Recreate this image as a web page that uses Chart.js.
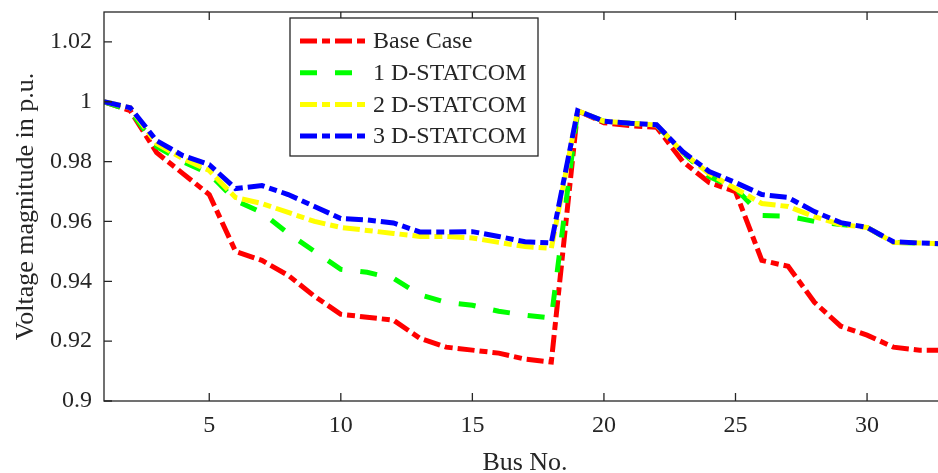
<!DOCTYPE html>
<html>
<head>
<meta charset="utf-8">
<script src="https://cdn.jsdelivr.net/npm/chart.js@4.4.1/dist/chart.umd.min.js"></script>
<style>
  html, body { margin:0; padding:0; background:#fff; overflow:hidden; }
  canvas { display:block; }
</style>
</head>
<body>
<canvas id="volt" width="960" height="476"></canvas>
<script>
// bus voltage profile, 33-bus feeder
const busNo = [1,2,3,4,5,6,7,8,9,10,11,12,13,14,15,16,17,18,19,20,21,22,23,24,25,26,27,28,29,30,31,32,33];

const baseCase = [1.000,0.997,0.983,0.976,0.969,0.950,0.947,0.942,0.935,0.929,0.928,0.927,0.921,0.918,0.917,0.916,0.914,0.913,
                  0.997,0.993,0.992,0.9915,0.980,0.973,0.970,0.947,0.945,0.933,0.925,0.922,0.918,0.917,0.917];
const oneStatcom = [1.000,0.997,0.985,0.980,0.976,0.967,0.963,0.956,0.950,0.944,0.943,0.941,0.9355,0.933,0.932,0.930,0.9287,0.9277,
                    0.997,0.9935,0.9928,0.9922,0.983,0.975,0.971,0.962,0.9618,0.960,0.959,0.958,0.953,0.9528,0.9525];
const twoStatcom = [1.000,0.998,0.986,0.981,0.977,0.968,0.966,0.963,0.960,0.958,0.957,0.956,0.955,0.955,0.9545,0.953,0.9516,0.951,
                    0.997,0.9935,0.9928,0.9922,0.983,0.976,0.971,0.966,0.965,0.9616,0.959,0.958,0.953,0.9528,0.9525];
const threeStatcom = [1.000,0.998,0.987,0.982,0.979,0.971,0.972,0.969,0.965,0.961,0.9605,0.9595,0.9565,0.9565,0.9566,0.955,0.9532,0.9528,
                      0.997,0.9935,0.9928,0.9923,0.9833,0.9767,0.973,0.969,0.968,0.9633,0.9596,0.958,0.9532,0.9528,0.9525];

const xTicks = [5,10,15,20,25,30];
const yTicks = [0.9,0.92,0.94,0.96,0.98,1,1.02];

const AXIS = "#262626";
const FONT = "'Liberation Serif', 'Times New Roman', serif";
const FS = 24;   // tick + legend text
const TS = 26;   // axis titles

const pts = arr => busNo.map((b,i)=>({x:b, y:arr[i]}));
const dashDot = [17,5,8,5];

const series = [
  {label:"Base Case",   data:pts(baseCase),     borderColor:"#ff0000", borderDash:dashDot, order:3},
  {label:"1 D-STATCOM", data:pts(oneStatcom),   borderColor:"#00ff00", borderDash:[17,18], order:2},
  {label:"2 D-STATCOM", data:pts(twoStatcom),   borderColor:"#ffff00", borderDash:dashDot, order:1},
  {label:"3 D-STATCOM", data:pts(threeStatcom), borderColor:"#0000ff", borderDash:dashDot, order:0}
].map(s => Object.assign(s, {borderWidth:5, pointRadius:0, tension:0, fill:false, borderCapStyle:"butt", borderJoinStyle:"miter"}));

// box, inward ticks and legend, matlab style
const frame = {
  id:"frame",
  afterDatasetsDraw(chart){
    const {ctx, chartArea:a, scales:{x, y}} = chart;
    ctx.save();
    ctx.strokeStyle = AXIS;
    ctx.lineWidth = 1.3;
    ctx.setLineDash([]);
    ctx.strokeRect(a.left, a.top, a.right-a.left, a.bottom-a.top);
    const tl = 8;
    ctx.beginPath();
    xTicks.forEach(v=>{
      const px = x.getPixelForValue(v);
      ctx.moveTo(px, a.bottom); ctx.lineTo(px, a.bottom-tl);
      ctx.moveTo(px, a.top);    ctx.lineTo(px, a.top+tl);
    });
    yTicks.forEach(v=>{
      const py = y.getPixelForValue(v);
      ctx.moveTo(a.left, py);  ctx.lineTo(a.left+tl, py);
      ctx.moveTo(a.right, py); ctx.lineTo(a.right-tl, py);
    });
    ctx.stroke();

    // legend
    const lx = 290, ly = 18, lw = 248, lh = 138;
    ctx.fillStyle = "#fff";
    ctx.fillRect(lx, ly, lw, lh);
    ctx.strokeRect(lx, ly, lw, lh);
    ctx.font = FS + "px " + FONT;
    ctx.textBaseline = "middle";
    chart.data.datasets.forEach((ds,i)=>{
      const ry = 41 + i*31.7;
      ctx.strokeStyle = ds.borderColor;
      ctx.lineWidth = 5;
      ctx.lineCap = "butt";
      ctx.setLineDash(ds.borderDash);
      ctx.beginPath();
      ctx.moveTo(lx+10, ry); ctx.lineTo(lx+76, ry);
      ctx.stroke();
      ctx.fillStyle = AXIS;
      ctx.fillText(ds.label, lx+83, ry+1);
    });
    ctx.restore();
  }
};

new Chart(document.getElementById("volt"), {
  type:"line",
  data:{ datasets:series },
  plugins:[frame],
  options:{
    responsive:false,
    animation:false,
    layout:{ padding:{ left:0, top:12, right:14, bottom:0 } },
    plugins:{ legend:{display:false}, tooltip:{enabled:false} },
    scales:{
      x:{
        type:"linear", min:1, max:33,
        afterBuildTicks: s => { s.ticks = xTicks.map(v=>({value:v})); },
        afterFit: s => { s.height = 75; s.paddingLeft = 0; s.paddingRight = 0; },
        grid:{ display:false, drawTicks:false },
        border:{ display:false },
        ticks:{ color:AXIS, font:{family:FONT, size:FS}, padding:10, maxRotation:0 },
        title:{ display:true, text:"Bus No.", color:AXIS, font:{family:FONT, size:TS, lineHeight:1}, padding:{top:2, bottom:0} }
      },
      y:{
        min:0.9, max:1.03,
        afterBuildTicks: s => { s.ticks = yTicks.map(v=>({value:v})); },
        afterFit: s => { s.width = 104; s.paddingTop = 0; s.paddingBottom = 0; },
        grid:{ display:false, drawTicks:false },
        border:{ display:false },
        ticks:{ color:AXIS, font:{family:FONT, size:FS}, padding:12, callback: v => String(+v.toFixed(2)) },
        title:{ display:true, text:"Voltage magnitude in p.u.", color:AXIS, font:{family:FONT, size:TS}, padding:{top:11, bottom:0} }
      }
    }
  }
});
</script>
</body>
</html>
